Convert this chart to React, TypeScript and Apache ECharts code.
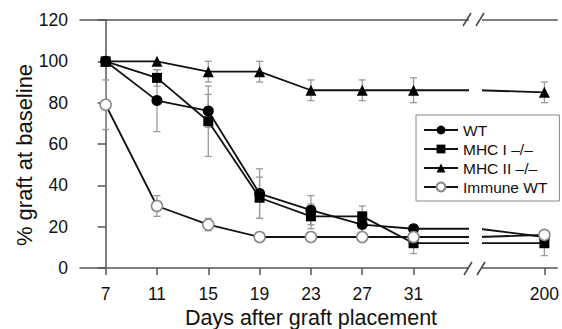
import React, { useEffect, useRef } from "react";
import * as echarts from "echarts";

const days = ["7", "11", "15", "19", "23", "27", "31", "200"];
// axis layout: positions of each day on the broken x axis
const xPositions = [0, 1, 2, 3, 4, 5, 6, 8.55];
// right edge of the axis break: lines hold their last pre-break value up to here
const breakEnd = 7.27;

const wt = [100, 81, 76, 36, 28, 21, 19, 15];
const wtErr = [0, 15, 8, 12, 7, 4, 2, 2];
const mhc1 = [100, 92, 71, 34, 25, 25, 12, 12];
const mhc1Err = [0, 4, 17, 10, 6, 5, 5, 6];
const mhc2 = [100, 100, 95, 95, 86, 86, 86, 85];
const mhc2Err = [0, 0, 5, 5, 5, 5, 6, 5];
const immune = [79, 30, 21, 15, 15, 15, 15, 16];
const immuneErr = [12, 5, 3, 2, 2, 2, 2, 2];

const yTicks = [0, 20, 40, 60, 80, 100, 120];

const FONT = "Liberation Sans, Arial, Helvetica, sans-serif";

export default function App() {
  const ref = useRef<HTMLDivElement>(null);
  useEffect(() => {
    if (!ref.current) return;
    const chart = echarts.init(ref.current, null, { renderer: "svg" });

    const pts = (vals: number[]) => {
      const out: any[] = xPositions.map((x, i) => [x, vals[i]]);
      const n = xPositions.length;
      out.splice(n - 1, 0, { value: [breakEnd, vals[n - 2]], symbol: "none" });
      return out;
    };
    const errs = (vals: number[], e: number[]) =>
      xPositions
        .map((x, i) => [x, vals[i] - e[i], vals[i] + e[i]])
        .filter((d, i) => e[i] > 0);

    const errSeries = (name: string, vals: number[], e: number[]) => ({
      type: "custom",
      name: name + "-err",
      z: 1,
      silent: true,
      data: errs(vals, e),
      encode: { x: 0, y: [1, 2] },
      renderItem: (params: any, api: any) => {
        const x = api.value(0);
        const p1 = api.coord([x, api.value(1)]);
        const p2 = api.coord([x, api.value(2)]);
        const w = 3.5;
        const st = { stroke: "#9a9a9a", lineWidth: 1.3 };
        return {
          type: "group",
          children: [
            { type: "line", shape: { x1: p1[0], y1: p1[1], x2: p2[0], y2: p2[1] }, style: st },
            { type: "line", shape: { x1: p1[0] - w, y1: p1[1], x2: p1[0] + w, y2: p1[1] }, style: st },
            { type: "line", shape: { x1: p2[0] - w, y1: p2[1], x2: p2[0] + w, y2: p2[1] }, style: st },
          ],
        };
      },
    });

    const lineSeries = (name: string, vals: number[], symbol: string, size: number, open = false) => ({
      type: "line",
      name,
      data: pts(vals),
      symbol,
      symbolSize: size,
      showAllSymbol: true,
      z: 3,
      lineStyle: { color: "#111", width: 1.8 },
      itemStyle: open
        ? { color: "#fff", borderColor: "#888", borderWidth: 1.5 }
        : { color: "#000", borderColor: "#000", borderWidth: 0 },
      emphasis: { disabled: true },
    });

    const slash = (x1: number, y1: number, x2: number, y2: number) => ({
      type: "line",
      z: 101,
      shape: { x1, y1, x2, y2 },
      style: { stroke: "#444", lineWidth: 1.5 },
    });

    chart.setOption({
      animation: false,
      textStyle: { fontFamily: FONT },
      grid: { left: 80, right: 1, top: 20, bottom: 61 },
      legend: {
        data: ["WT", "MHC I \u2013/\u2013", "MHC II \u2013/\u2013", "Immune WT"],
        orient: "vertical",
        left: 416,
        top: 115,
        z: 200,
        backgroundColor: "#fff",
        borderColor: "#888",
        borderWidth: 1,
        borderRadius: 0,
        padding: [7, 12, 6, 7],
        itemWidth: 34,
        itemHeight: 11,
        itemGap: 3,
        textStyle: { fontFamily: FONT, fontSize: 15.5, color: "#111" },
      },
      xAxis: [
        {
          type: "value",
          min: -0.5,
          max: 8.8,
          splitLine: { show: false },
          axisLine: { show: true, lineStyle: { color: "#555", width: 1.5 } },
          axisTick: {
            show: true,
            length: 7,
            customValues: xPositions,
            lineStyle: { color: "#555", width: 1.5 },
          },
          axisLabel: {
            customValues: xPositions,
            margin: 17,
            fontSize: 17.5,
            color: "#111",
            fontFamily: FONT,
            formatter: (v: number) => {
              const i = xPositions.findIndex((p) => Math.abs(p - v) < 1e-6);
              return i >= 0 ? days[i] : "";
            },
          },
        },
        {
          type: "value",
          position: "top",
          min: -0.5,
          max: 8.8,
          splitLine: { show: false },
          axisLine: { show: true, onZero: false, lineStyle: { color: "#555", width: 1.5 } },
          axisTick: { show: false },
          axisLabel: { show: false },
        },
      ],
      yAxis: {
        type: "value",
        min: 0,
        max: 120,
        interval: 20,
        splitLine: { show: false },
        axisLine: { show: true, lineStyle: { color: "#555", width: 1.5 } },
        axisTick: { show: true, length: 8, lineStyle: { color: "#555", width: 1.5 } },
        axisLabel: {
          margin: 12,
          fontSize: 17.5,
          color: "#111",
          fontFamily: FONT,
          formatter: (v: number) => (yTicks.includes(v) ? String(v) : ""),
        },
      },
      graphic: [
        {
          type: "rect",
          z: 100,
          shape: { x: 469, y: 12, width: 13, height: 264 },
          style: { fill: "#fff" },
        },
        slash(463, 26, 471, 13),
        slash(476, 26, 484, 13),
        slash(464, 275, 472, 262),
        slash(477, 275, 485, 262),
        {
          type: "text",
          x: 311,
          y: 318,
          style: {
            text: "Days after graft placement",
            fontFamily: FONT,
            fontSize: 21.5,
            fill: "#111",
            align: "center",
            verticalAlign: "middle",
          },
        },
        {
          type: "text",
          x: 24,
          y: 155,
          rotation: Math.PI / 2,
          style: {
            text: "% graft at baseline",
            fontFamily: FONT,
            fontSize: 22,
            fill: "#111",
            align: "center",
            verticalAlign: "middle",
          },
        },
      ],
      series: [
        errSeries("WT", wt, wtErr),
        errSeries("MHC I", mhc1, mhc1Err),
        errSeries("MHC II", mhc2, mhc2Err),
        errSeries("Immune", immune, immuneErr),
        lineSeries("WT", wt, "circle", 11),
        lineSeries("MHC I \u2013/\u2013", mhc1, "rect", 10),
        lineSeries("MHC II \u2013/\u2013", mhc2, "triangle", 11),
        lineSeries("Immune WT", immune, "circle", 11, true),
      ],
    });
    return () => chart.dispose();
  }, []);
  return <div ref={ref} style={{ width: 562, height: 329, position: "absolute", left: 0, top: 0 }} />;
}
